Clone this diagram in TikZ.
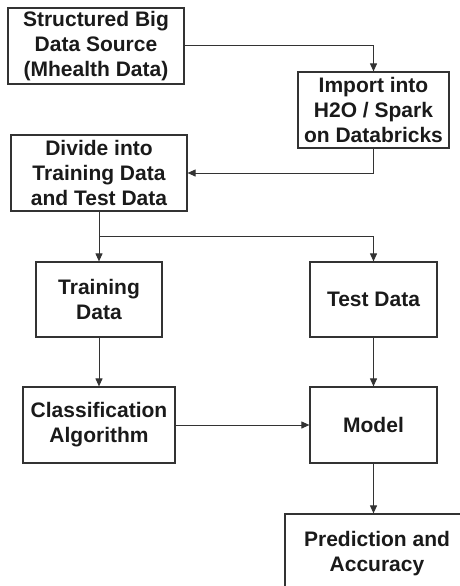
\documentclass[tikz,border=0pt]{standalone}
\usepackage{fontspec}
\setmainfont{Liberation Sans}
\usetikzlibrary{arrows.meta}
\definecolor{ln}{HTML}{333333}
\definecolor{tx}{HTML}{1A1A1A}
\begin{document}
\begin{tikzpicture}[x=1pt,y=-1pt,
  box/.style={draw=ln,line width=1.2pt,rectangle,inner sep=0pt,align=center,text=tx,
    font=\bfseries\fontsize{21}{25}\selectfont},
  conn/.style={draw=ln,line width=1pt},
  arr/.style={conn,-{Triangle[length=8pt,width=7pt]}}]
\useasboundingbox (0,0) rectangle (460,586);
\begin{scope}
\clip (0,0) rectangle (460,586);
\node[box,minimum width=176,minimum height=76] (src) at (96,46) {Structured Big\\Data Source\\(Mhealth Data)};
\node[box,minimum width=151,minimum height=76] (imp) at (373.5,110) {Import into\\H2O / Spark\\on Databricks};
\node[box,minimum width=176,minimum height=76] (div) at (99,173) {Divide into\\Training Data\\and Test Data};
\node[box,minimum width=126,minimum height=75] (trn) at (99,299.5) {Training\\Data};
\node[box,minimum width=127,minimum height=75] (tst) at (373.5,299.5) {Test Data};
\node[box,minimum width=152,minimum height=76] (cls) at (99,425) {Classification\\Algorithm};
\node[box,minimum width=127,minimum height=76] (mdl) at (373.5,425) {Model};
\node[box,minimum width=184,minimum height=80] (prd) at (377,554) {Prediction and\\Accuracy};
\coordinate (split) at (99,236);
\draw[arr] (src.east) -| (imp.north);
\draw[arr] (imp.south) |- (div.east);
\draw[conn] (div.south) -- (split);
\draw[arr] (split) -- (trn.north);
\draw[arr] (split) -| (tst.north);
\draw[arr] (trn.south) -- (cls.north);
\draw[arr] (tst.south) -- (mdl.north);
\draw[arr] (cls.east) -- (mdl.west);
\draw[arr] (mdl.south) -- (mdl.south |- prd.north);
\end{scope}
\end{tikzpicture}
\end{document}
